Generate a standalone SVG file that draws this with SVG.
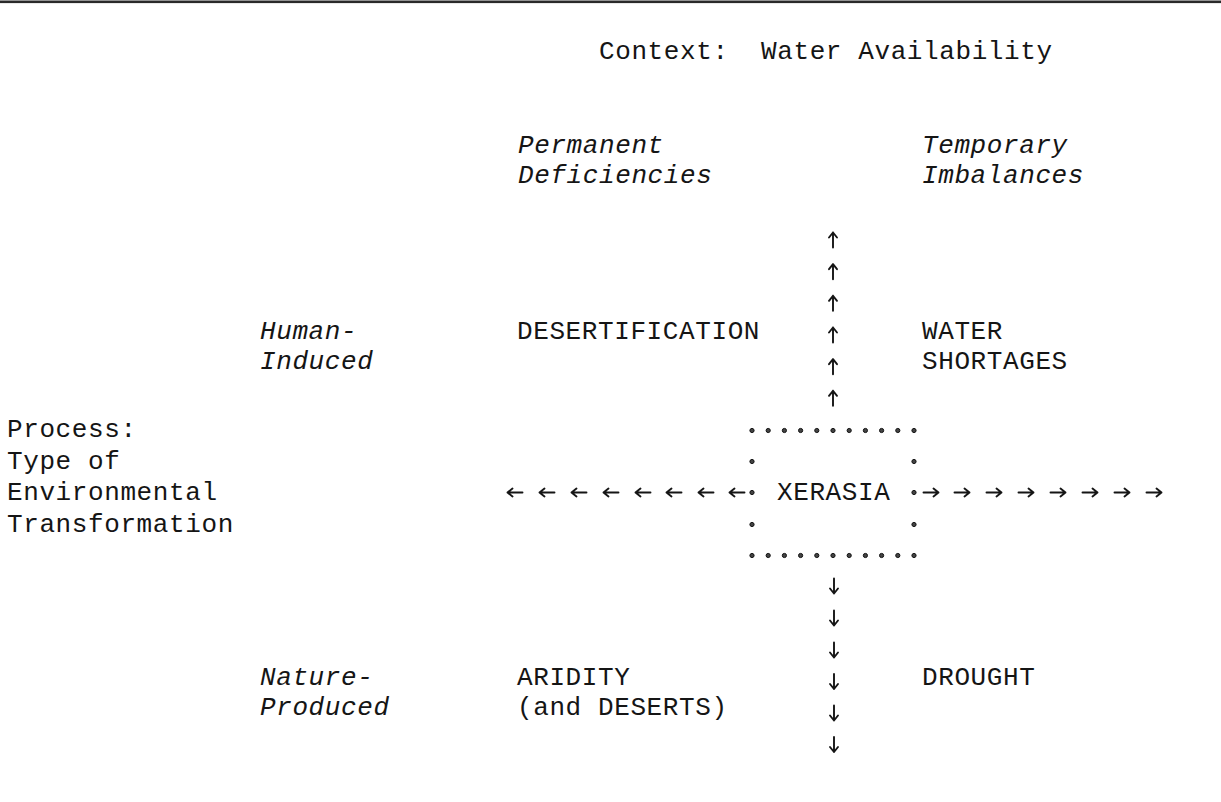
<svg xmlns="http://www.w3.org/2000/svg" width="1221" height="802" viewBox="0 0 1221 802">
<style>
text{font-family:"Liberation Mono","Courier New",monospace;font-size:26px;letter-spacing:0.6px;fill:#151515}
.it{font-style:italic}
.dot{fill:#444;stroke:#111;stroke-width:1}
.arr{fill:none;stroke:#151515;stroke-width:1.9;stroke-linecap:round;stroke-linejoin:round}
</style>
<defs>
<path id="ar" class="arr" d="M-7.5,0 H7.5 M2.5,-4 L7.5,0 L2.5,4"/>
</defs>
<rect x="0" y="0.5" width="1221" height="2.6" fill="#2a2a2a"/>
<g id="context"><text x="599" y="59" xml:space="preserve">Context:  Water Availability</text></g>
<g id="col-permanent"><text class="it" x="518" y="153">Permanent</text><text class="it" x="518" y="183">Deficiencies</text></g>
<g id="col-temporary"><text class="it" x="922" y="153">Temporary</text><text class="it" x="922" y="183">Imbalances</text></g>
<g id="row-human"><text class="it" x="260" y="339">Human-</text><text class="it" x="260" y="369">Induced</text></g>
<g id="row-nature"><text class="it" x="260" y="685">Nature-</text><text class="it" x="260" y="715">Produced</text></g>
<g id="process"><text x="7" y="437">Process:</text><text x="7" y="468.5">Type of</text><text x="7" y="500">Environmental</text><text x="7" y="531.5">Transformation</text></g>
<g id="desertification"><text x="517" y="339">DESERTIFICATION</text></g>
<g id="water-shortages"><text x="922" y="339">WATER</text><text x="922" y="369">SHORTAGES</text></g>
<g id="aridity"><text x="517" y="685">ARIDITY</text><text x="517" y="715">(and DESERTS)</text></g>
<g id="drought"><text x="922" y="685">DROUGHT</text></g>
<g id="xerasia">
<text x="777" y="500">XERASIA</text>
<g id="box-dots">
<circle class="dot" cx="752" cy="430.5" r="2.1"/><circle class="dot" cx="768.2" cy="430.5" r="2.1"/><circle class="dot" cx="784.4" cy="430.5" r="2.1"/><circle class="dot" cx="800.6" cy="430.5" r="2.1"/><circle class="dot" cx="816.8" cy="430.5" r="2.1"/><circle class="dot" cx="833" cy="430.5" r="2.1"/><circle class="dot" cx="849.2" cy="430.5" r="2.1"/><circle class="dot" cx="865.4" cy="430.5" r="2.1"/><circle class="dot" cx="881.6" cy="430.5" r="2.1"/><circle class="dot" cx="897.8" cy="430.5" r="2.1"/><circle class="dot" cx="914" cy="430.5" r="2.1"/>
<circle class="dot" cx="752" cy="461.5" r="2.1"/><circle class="dot" cx="914" cy="461.5" r="2.1"/>
<circle class="dot" cx="752" cy="492.5" r="2.1"/><circle class="dot" cx="914" cy="492.5" r="2.1"/>
<circle class="dot" cx="752" cy="524.5" r="2.1"/><circle class="dot" cx="914" cy="524.5" r="2.1"/>
<circle class="dot" cx="752" cy="555.5" r="2.1"/><circle class="dot" cx="768.2" cy="555.5" r="2.1"/><circle class="dot" cx="784.4" cy="555.5" r="2.1"/><circle class="dot" cx="800.6" cy="555.5" r="2.1"/><circle class="dot" cx="816.8" cy="555.5" r="2.1"/><circle class="dot" cx="833" cy="555.5" r="2.1"/><circle class="dot" cx="849.2" cy="555.5" r="2.1"/><circle class="dot" cx="865.4" cy="555.5" r="2.1"/><circle class="dot" cx="881.6" cy="555.5" r="2.1"/><circle class="dot" cx="897.8" cy="555.5" r="2.1"/><circle class="dot" cx="914" cy="555.5" r="2.1"/>
</g>
</g>
<g id="connectors">
<g id="arrows-up">
<use href="#ar" transform="translate(833,240) rotate(-90)"/><use href="#ar" transform="translate(833,271.7) rotate(-90)"/><use href="#ar" transform="translate(833,303.3) rotate(-90)"/><use href="#ar" transform="translate(833,335) rotate(-90)"/><use href="#ar" transform="translate(833,366.7) rotate(-90)"/><use href="#ar" transform="translate(833,398.3) rotate(-90)"/>
</g>
<g id="arrows-down">
<use href="#ar" transform="translate(834,586) rotate(90)"/><use href="#ar" transform="translate(834,618) rotate(90)"/><use href="#ar" transform="translate(834,650) rotate(90)"/><use href="#ar" transform="translate(834,681.5) rotate(90)"/><use href="#ar" transform="translate(834,713) rotate(90)"/><use href="#ar" transform="translate(834,744.5) rotate(90)"/>
</g>
<g id="arrows-left">
<use href="#ar" transform="translate(515,492.5) rotate(180)"/><use href="#ar" transform="translate(547,492.5) rotate(180)"/><use href="#ar" transform="translate(579,492.5) rotate(180)"/><use href="#ar" transform="translate(611,492.5) rotate(180)"/><use href="#ar" transform="translate(643,492.5) rotate(180)"/><use href="#ar" transform="translate(674,492.5) rotate(180)"/><use href="#ar" transform="translate(706,492.5) rotate(180)"/><use href="#ar" transform="translate(737,492.5) rotate(180)"/>
</g>
<g id="arrows-right">
<use href="#ar" transform="translate(931,492.5)"/><use href="#ar" transform="translate(962,492.5)"/><use href="#ar" transform="translate(994,492.5)"/><use href="#ar" transform="translate(1026,492.5)"/><use href="#ar" transform="translate(1058,492.5)"/><use href="#ar" transform="translate(1090,492.5)"/><use href="#ar" transform="translate(1122,492.5)"/><use href="#ar" transform="translate(1154,492.5)"/>
</g>
</g>
</svg>
